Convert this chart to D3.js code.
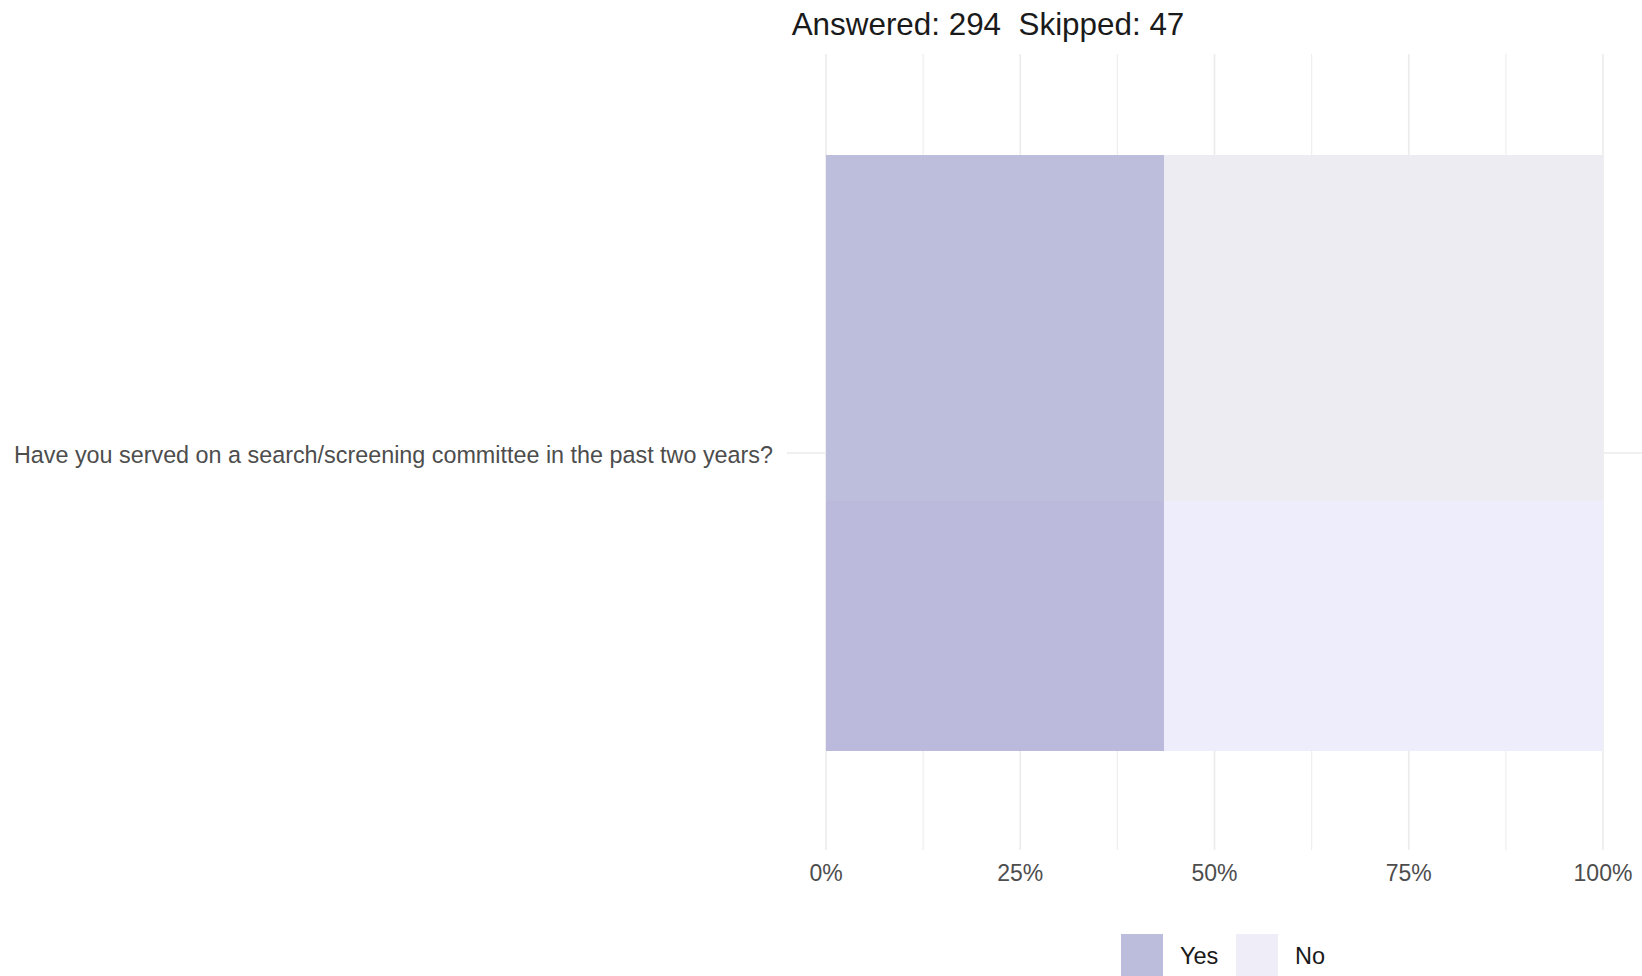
<!DOCTYPE html>
<html><head><meta charset="utf-8">
<script src="https://cdn.jsdelivr.net/npm/d3@7"></script>
<style>body{margin:0;background:#fff}svg{display:block}text{white-space:pre}</style>
</head><body>
<svg id="chart" width="1642" height="976"></svg>
<script>
const categories = ["Have you served on a search/screening committee in the past two years?"];
const seriesNames = ["Yes", "No"];
const yesValues = [0.435];
const noValues = [0.565];
const xTicks = [0, 0.25, 0.5, 0.75, 1];
const xTickLabels = ["0%", "25%", "50%", "75%", "100%"];
const minorTicks = [0.125, 0.375, 0.625, 0.875];
const titleText = "Answered: 294  Skipped: 47";
const colors = {Yes: "#BCBCDD", No: "#EEEDF8"};

const svg = d3.select("#chart");
const font = "'Liberation Sans', Arial, sans-serif";
const panel = {left: 787, right: 1642, top: 54, bottom: 850};

const x = d3.scaleLinear().domain([0, 1]).range([826, 1603]);
const y = d3.scaleBand().domain(categories).range([155, 751]).padding(0);

const defs = svg.append("defs");
const g1 = defs.append("linearGradient").attr("id", "noFill").attr("x1", 0).attr("x2", 0).attr("y1", 0).attr("y2", 1);
g1.append("stop").attr("offset", "0.58").attr("stop-color", "#EDECF3");
g1.append("stop").attr("offset", "0.58").attr("stop-color", "#EEEDFC");
const g2 = defs.append("linearGradient").attr("id", "yesFill").attr("x1", 0).attr("x2", 0).attr("y1", 0).attr("y2", 1);
g2.append("stop").attr("offset", "0.58").attr("stop-color", "#BDBDDC");
g2.append("stop").attr("offset", "0.58").attr("stop-color", "#BBBADD");

// gridlines
svg.append("g").selectAll("line.minor").data(minorTicks).join("line")
  .attr("x1", d => x(d)).attr("x2", d => x(d))
  .attr("y1", panel.top).attr("y2", panel.bottom)
  .attr("stroke", "#EEEEEE").attr("stroke-width", 1.2);
svg.append("g").selectAll("line.major").data(xTicks).join("line")
  .attr("x1", d => x(d)).attr("x2", d => x(d))
  .attr("y1", panel.top).attr("y2", panel.bottom)
  .attr("stroke", "#EBEBEB").attr("stroke-width", 1.6);
svg.append("g").selectAll("line.hy").data(categories).join("line")
  .attr("x1", panel.left).attr("x2", panel.right)
  .attr("y1", d => y(d) + y.bandwidth() / 2).attr("y2", d => y(d) + y.bandwidth() / 2)
  .attr("stroke", "#EBEBEB").attr("stroke-width", 1.6);

// stacked bars
const rows = categories.map((c, i) => ({cat: c, Yes: yesValues[i], No: noValues[i]}));
const stack = d3.stack().keys(seriesNames)(rows);
const fills = {Yes: "url(#yesFill)", No: "url(#noFill)"};
svg.append("g").selectAll("g").data(stack).join("g")
  .attr("fill", s => fills[s.key])
  .selectAll("rect").data(s => s).join("rect")
  .attr("x", d => x(d[0])).attr("width", d => x(d[1]) - x(d[0]))
  .attr("y", d => y(d.data.cat)).attr("height", y.bandwidth());

// x axis labels
svg.append("g").selectAll("text").data(xTicks).join("text")
  .attr("x", d => x(d)).attr("y", 881)
  .attr("text-anchor", "middle")
  .attr("font-family", font).attr("font-size", 23).attr("fill", "#4D4D4D")
  .text((d, i) => xTickLabels[i]);

// y axis label
svg.append("g").selectAll("text").data(categories).join("text")
  .attr("x", 773).attr("y", d => y(d) + y.bandwidth() / 2 + 2)
  .attr("dy", "0.35em").attr("text-anchor", "end")
  .attr("font-family", font).attr("font-size", 23.35).attr("fill", "#4D4D4D")
  .text(d => d);

// title
svg.append("text").attr("x", 988).attr("y", 35).attr("text-anchor", "middle")
  .attr("font-family", font).attr("font-size", 31.4).attr("fill", "#1A1A1A")
  .text(titleText);

// legend
const legendX = [1121, 1236];
const lg = svg.append("g").selectAll("g").data(seriesNames).join("g")
  .attr("transform", (d, i) => `translate(${legendX[i]},934)`);
lg.append("rect").attr("width", 42).attr("height", 42).attr("fill", d => colors[d]);
lg.append("text").attr("x", 59).attr("y", 22).attr("dy", "0.35em")
  .attr("font-family", font).attr("font-size", 23.5).attr("fill", "#1A1A1A")
  .text(d => d);
</script>
</body></html>
